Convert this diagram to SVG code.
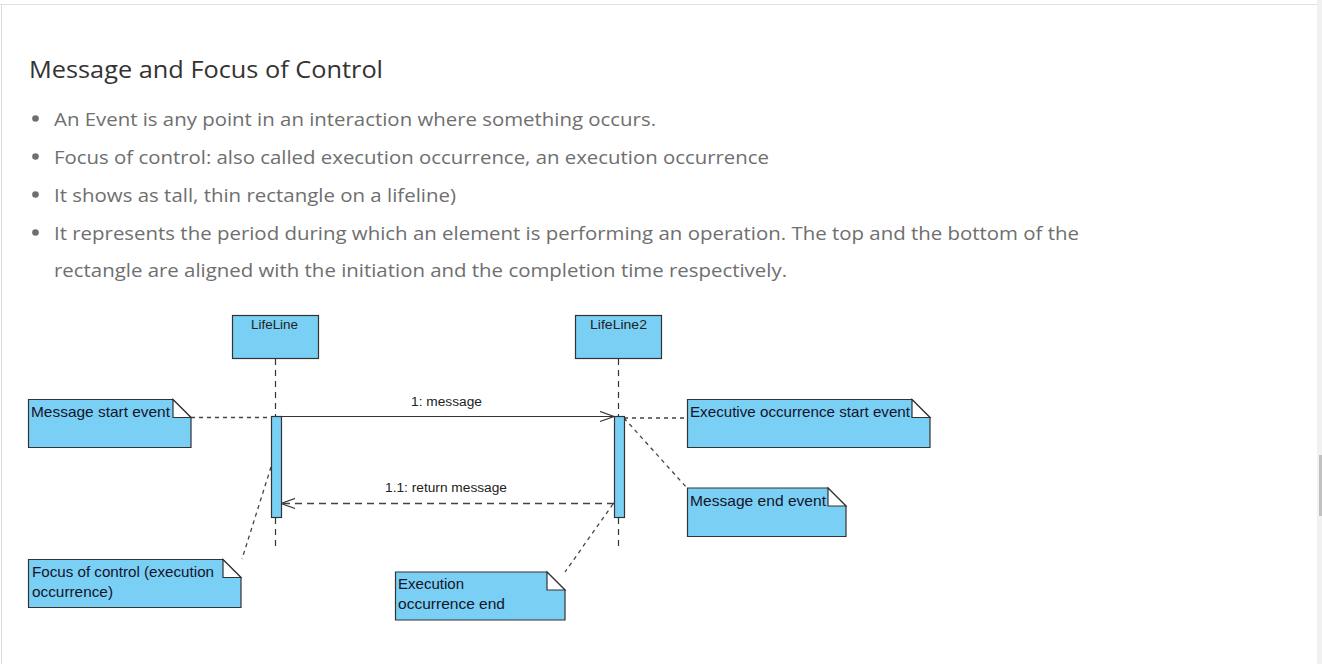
<svg xmlns="http://www.w3.org/2000/svg" width="1322" height="664" viewBox="0 0 1322 664">
<defs>
<style>
.h{font-family:"Open Sans","Liberation Sans",sans-serif;font-size:24px;fill:#333333}
.b{font-family:"Open Sans","Liberation Sans",sans-serif;font-size:18px;fill:#6f6f6f}
.dot{fill:#6f6f6f}
.box{fill:#7acff4;stroke:#333333;stroke-width:1.2}
.fold{fill:#ffffff;stroke:#333333;stroke-width:1.2;stroke-linejoin:miter}
.t{font-family:"Liberation Sans",Arial,sans-serif;font-size:14.5px;fill:#14142a}
.s{font-family:"Liberation Sans",Arial,sans-serif;font-size:12px;fill:#222222}
.life{stroke:#333333;stroke-width:1.2;stroke-dasharray:6,5;fill:none}
.anchor{stroke:#444444;stroke-width:1.3;stroke-dasharray:4,4;fill:none}
.msg{stroke:#333333;stroke-width:1.2;fill:none}
.ret{stroke:#444444;stroke-width:1.5;stroke-dasharray:7,5;fill:none}
</style>
<marker id="open" markerWidth="16" markerHeight="12" refX="15" refY="6" orient="auto" markerUnits="userSpaceOnUse">
<path d="M1,1 L15,6 L1,11" fill="none" stroke="#333333" stroke-width="1.3"/>
</marker>
</defs>
<rect x="0" y="0" width="1322" height="664" fill="#ffffff"/>
<g id="frame">
<line x1="0" y1="4.5" x2="1317" y2="4.5" stroke="#e2e2e2" stroke-width="1"/>
<line x1="1.5" y1="4" x2="1.5" y2="664" stroke="#dddddd" stroke-width="1"/>
<rect x="1317" y="0" width="5" height="664" fill="#f1f1f1"/>
<rect x="1319" y="455" width="3" height="61" fill="#c1c1c1"/>
</g>
<g id="text">
<text class="h" x="29" y="78" textLength="354" lengthAdjust="spacingAndGlyphs">Message and Focus of Control</text>
<circle class="dot" cx="35.5" cy="118.5" r="3.3"/>
<text class="b" x="54" y="126" textLength="602" lengthAdjust="spacingAndGlyphs">An Event is any point in an interaction where something occurs.</text>
<circle class="dot" cx="35.5" cy="156.5" r="3.3"/>
<text class="b" x="54" y="164" textLength="715" lengthAdjust="spacingAndGlyphs">Focus of control: also called execution occurrence, an execution occurrence</text>
<circle class="dot" cx="35.5" cy="194.5" r="3.3"/>
<text class="b" x="54" y="202" textLength="402" lengthAdjust="spacingAndGlyphs">It shows as tall, thin rectangle on a lifeline)</text>
<circle class="dot" cx="35.5" cy="232.5" r="3.3"/>
<text class="b" x="54" y="240" textLength="1025" lengthAdjust="spacingAndGlyphs">It represents the period during which an element is performing an operation. The top and the bottom of the</text>
<text class="b" x="54" y="277" textLength="733" lengthAdjust="spacingAndGlyphs">rectangle are aligned with the initiation and the completion time respectively.</text>
</g>
<g id="connectors">
<line class="life" x1="275.5" y1="359" x2="275.5" y2="416"/>
<line class="life" x1="275.5" y1="518" x2="275.5" y2="546"/>
<line class="life" x1="618.5" y1="359" x2="618.5" y2="416"/>
<line class="life" x1="618.5" y1="518" x2="618.5" y2="546"/>
<line class="msg" x1="281" y1="416.5" x2="614" y2="416.5" marker-end="url(#open)"/>
<text class="s" x="411" y="406" textLength="71" lengthAdjust="spacingAndGlyphs">1: message</text>
<line class="ret" x1="614" y1="503.5" x2="281" y2="503.5" marker-end="url(#open)"/>
<text class="s" x="385" y="492" textLength="122" lengthAdjust="spacingAndGlyphs">1.1: return message</text>
<line class="anchor" x1="191" y1="417.5" x2="271" y2="417.5"/>
<line class="anchor" x1="624" y1="418" x2="687" y2="418"/>
<line class="anchor" x1="624" y1="418" x2="687" y2="488"/>
<line class="anchor" x1="271" y1="467" x2="242" y2="559"/>
<line class="anchor" x1="613" y1="504" x2="565" y2="572"/>
</g>
<g id="lifeline1">
<rect class="box" x="232.5" y="315.5" width="86" height="43"/>
<text class="s" x="251" y="328.5" textLength="47" lengthAdjust="spacingAndGlyphs">LifeLine</text>
</g>
<g id="lifeline2">
<rect class="box" x="575.5" y="315.5" width="86" height="43"/>
<text class="s" x="590" y="328.5" textLength="57" lengthAdjust="spacingAndGlyphs">LifeLine2</text>
</g>
<g id="activation1">
<rect class="box" x="271.5" y="416.5" width="10" height="101"/>
</g>
<g id="activation2">
<rect class="box" x="614.5" y="416.5" width="10" height="101"/>
</g>
<g id="note-message-start">
<path class="box" d="M28.5,399.5 H173 L191,417.5 V447.5 H28.5 Z"/>
<path class="fold" d="M173,399.5 L191,417.5 H173 Z"/>
<text class="t" x="31" y="417" textLength="139" lengthAdjust="spacingAndGlyphs">Message start event</text>
</g>
<g id="note-exec-start">
<path class="box" d="M687.5,399.5 H912 L930,417.5 V447.5 H687.5 Z"/>
<path class="fold" d="M912,399.5 L930,417.5 H912 Z"/>
<text class="t" x="690" y="417" textLength="220" lengthAdjust="spacingAndGlyphs">Executive occurrence start event</text>
</g>
<g id="note-message-end">
<path class="box" d="M687.5,488 H828 L846,506 V536.5 H687.5 Z"/>
<path class="fold" d="M828,488 L846,506 H828 Z"/>
<text class="t" x="690" y="506" textLength="136" lengthAdjust="spacingAndGlyphs">Message end event</text>
</g>
<g id="note-focus">
<path class="box" d="M28.5,559.5 H223 L241,577.5 V607.5 H28.5 Z"/>
<path class="fold" d="M223,559.5 L241,577.5 H223 Z"/>
<text class="t" x="32" y="577" textLength="182" lengthAdjust="spacingAndGlyphs">Focus of control (execution</text>
<text class="t" x="32" y="597" textLength="81" lengthAdjust="spacingAndGlyphs">occurrence)</text>
</g>
<g id="note-exec-end">
<path class="box" d="M395.5,572 H547 L565,590 V620 H395.5 Z"/>
<path class="fold" d="M547,572 L565,590 H547 Z"/>
<text class="t" x="398" y="589" textLength="66" lengthAdjust="spacingAndGlyphs">Execution</text>
<text class="t" x="398" y="609" textLength="107" lengthAdjust="spacingAndGlyphs">occurrence end</text>
</g>
</svg>
